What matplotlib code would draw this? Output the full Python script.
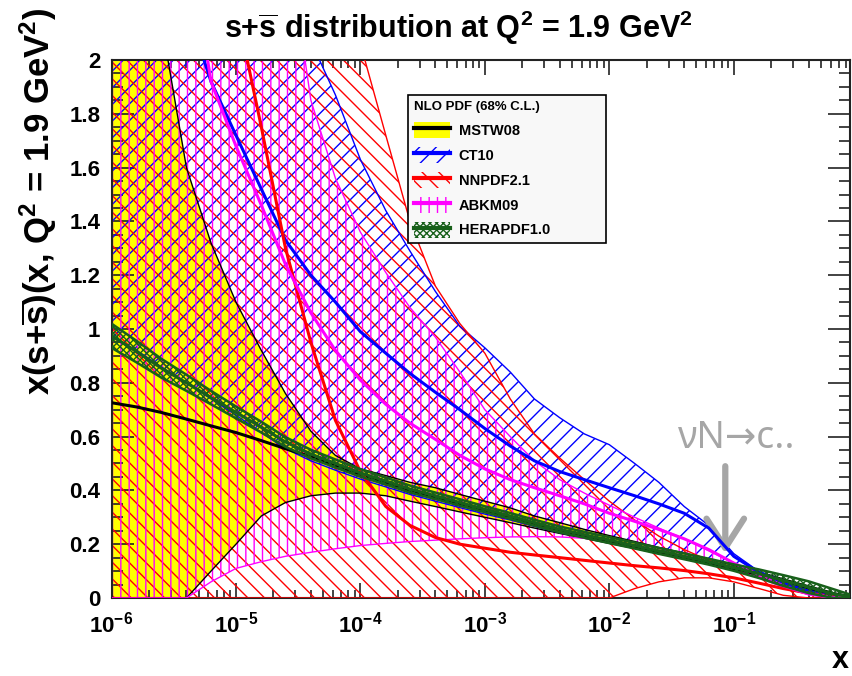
import numpy as np
import matplotlib
matplotlib.use('Agg')
import matplotlib.pyplot as plt
from matplotlib.patches import Patch
from matplotlib.lines import Line2D

plt.rcParams['font.family'] = ['Liberation Sans', 'DejaVu Sans']
plt.rcParams['font.weight'] = 'bold'
plt.rcParams['mathtext.fontset'] = 'custom'
plt.rcParams['mathtext.rm'] = 'Liberation Sans:bold'
plt.rcParams['mathtext.it'] = 'Liberation Sans:bold'
plt.rcParams['mathtext.bf'] = 'Liberation Sans:bold'
plt.rcParams['hatch.linewidth'] = 1.0

# x grid
x = [1e-6, 1.6e-6, 2.5e-6, 4e-6, 6.3e-6,
     1e-5, 1.6e-5, 2.5e-5, 4e-5, 6.3e-5,
     1e-4, 1.6e-4, 2.5e-4, 4e-4, 6.3e-4,
     1e-3, 1.6e-3, 2.5e-3, 4e-3, 6.3e-3,
     1e-2, 1.6e-2, 2.5e-2, 4e-2, 6.3e-2,
     0.1, 0.16, 0.25, 0.4, 0.63, 0.86]

# MSTW08
mstw_c = [0.726, 0.71, 0.69, 0.665, 0.64, 0.615, 0.585, 0.555, 0.525, 0.49,
          0.46, 0.43, 0.40, 0.375, 0.35, 0.325, 0.30, 0.277, 0.253, 0.232,
          0.212, 0.192, 0.172, 0.152, 0.132, 0.11, 0.087, 0.062, 0.038, 0.014, 0.004]
mstw_hi = [3.5, 2.8, 2.15, 1.6, 1.32, 1.10, 0.92, 0.76, 0.62, 0.53,
           0.48, 0.455, 0.43, 0.41, 0.385, 0.36, 0.335, 0.305, 0.28, 0.255,
           0.232, 0.21, 0.188, 0.167, 0.145, 0.121, 0.097, 0.071, 0.045, 0.02, 0.008]
mstw_lo = [0.0, 0.0, 0.0, 0.0, 0.10, 0.20, 0.305, 0.355, 0.38, 0.39,
           0.39, 0.38, 0.36, 0.34, 0.32, 0.30, 0.28, 0.26, 0.24, 0.222,
           0.203, 0.184, 0.165, 0.146, 0.126, 0.104, 0.08, 0.055, 0.032, 0.01, 0.0]

# CT10
ct10_c = [4.0, 3.3, 2.7, 2.2, 1.92, 1.72, 1.52, 1.33, 1.20, 1.10,
          0.99, 0.91, 0.835, 0.765, 0.70, 0.63, 0.565, 0.51, 0.47, 0.44,
          0.41, 0.38, 0.35, 0.315, 0.26, 0.155, 0.095, 0.055, 0.025, 0.005, 0.0]
ct10_hi = [6.0, 5.5, 5.0, 4.5, 4.0, 3.5, 3.0, 2.5, 2.07, 1.87,
           1.63, 1.44, 1.29, 1.14, 1.01, 0.93, 0.84, 0.74, 0.67, 0.61,
           0.57, 0.50, 0.43, 0.34, 0.27, 0.165, 0.098, 0.065, 0.04, 0.015, 0.005]
ct10_lo = [0.97, 0.92, 0.86, 0.80, 0.74, 0.68, 0.615, 0.555, 0.51, 0.475,
           0.442, 0.413, 0.385, 0.36, 0.336, 0.312, 0.29, 0.266, 0.243, 0.224,
           0.205, 0.186, 0.168, 0.15, 0.13, 0.108, 0.08, 0.05, 0.025, 0.005, 0.0]

# NNPDF2.1
nnpdf_c = [8.0, 7.0, 6.0, 5.0, 3.2, 2.2, 1.75, 1.30, 0.95, 0.66,
           0.47, 0.34, 0.27, 0.225, 0.20, 0.185, 0.17, 0.16, 0.15, 0.14,
           0.13, 0.12, 0.112, 0.102, 0.09, 0.075, 0.055, 0.035, 0.018, 0.005, 0.0]
nnpdf_hi = [9.0, 9.0, 9.0, 9.0, 9.0, 9.0, 9.0, 9.0, 9.0, 9.0,
            2.06, 1.72, 1.40, 1.16, 1.02, 0.91, 0.74, 0.61, 0.52, 0.44,
            0.36, 0.29, 0.23, 0.18, 0.14, 0.11, 0.08, 0.05, 0.025, 0.005, 0.0]
nnpdf_lo = [0.0, 0.0, 0.0, 0.0, 0.0, 0.0, 0.0, 0.0, 0.0, 0.0,
            0.0, 0.0, 0.0, 0.0, 0.0, 0.0, 0.0, 0.0, 0.0, 0.0,
            0.0, 0.035, 0.06, 0.075, 0.075, 0.06, 0.035, 0.01, 0.0, 0.0, 0.0]

# ABKM09
abkm_c = [5.0, 4.0, 3.2, 2.5, 1.92, 1.68, 1.46, 1.24, 1.06, 0.92,
          0.81, 0.72, 0.65, 0.59, 0.53, 0.48, 0.44, 0.41, 0.38, 0.35,
          0.315, 0.285, 0.255, 0.22, 0.18, 0.13, 0.085, 0.045, 0.015, 0.002, 0.0]
abkm_hi = [6.0, 5.6, 5.2, 4.8, 4.4, 4.0, 3.2, 2.5, 1.85, 1.56,
           1.36, 1.21, 1.08, 0.97, 0.84, 0.70, 0.60, 0.51, 0.44, 0.39,
           0.345, 0.30, 0.26, 0.22, 0.175, 0.13, 0.09, 0.05, 0.02, 0.003, 0.0]
abkm_lo = [0.0, 0.0, 0.0, 0.0, 0.06, 0.11, 0.135, 0.155, 0.17, 0.183,
           0.195, 0.203, 0.21, 0.215, 0.22, 0.224, 0.227, 0.228, 0.227, 0.222,
           0.212, 0.197, 0.178, 0.157, 0.135, 0.11, 0.075, 0.04, 0.012, 0.0, 0.0]

# HERAPDF1.0
hera_c = [0.975, 0.915, 0.855, 0.80, 0.745, 0.69, 0.635, 0.58, 0.535, 0.50,
          0.465, 0.435, 0.405, 0.38, 0.355, 0.33, 0.305, 0.28, 0.255, 0.235,
          0.215, 0.195, 0.175, 0.155, 0.135, 0.113, 0.09, 0.065, 0.04, 0.015, 0.005]
hera_hi = [1.02, 0.955, 0.89, 0.83, 0.77, 0.712, 0.655, 0.598, 0.551, 0.515,
           0.479, 0.448, 0.418, 0.392, 0.367, 0.341, 0.316, 0.291, 0.266, 0.246,
           0.226, 0.206, 0.186, 0.166, 0.146, 0.125, 0.106, 0.085, 0.062, 0.033, 0.013]
hera_lo = [0.93, 0.875, 0.82, 0.77, 0.72, 0.668, 0.615, 0.562, 0.519, 0.485,
           0.451, 0.422, 0.392, 0.368, 0.343, 0.319, 0.294, 0.269, 0.244, 0.224,
           0.204, 0.184, 0.164, 0.144, 0.124, 0.101, 0.074, 0.045, 0.018, 0.0, 0.0]

names = ['MSTW08', 'CT10', 'NNPDF2.1', 'ABKM09', 'HERAPDF1.0']

yellow = '#FFFF00'
blue = '#0000FF'
red = '#FF0000'
magenta = '#FF00FF'
green = '#18601A'

fig = plt.figure(figsize=(8.52, 6.76), dpi=100)
ax = fig.add_axes([0.1309, 0.1154, 0.8668, 0.7958])

# MSTW: solid yellow band
ax.fill_between(x, mstw_lo, mstw_hi, facecolor=yellow, edgecolor='none', zorder=1)

# hatched bands
ax.fill_between(x, ct10_lo, ct10_hi, facecolor='none', edgecolor=blue, hatch='//', lw=0, zorder=2)
ax.fill_between(x, nnpdf_lo, nnpdf_hi, facecolor='none', edgecolor=red, hatch='\\\\', lw=0, zorder=2)
ax.fill_between(x, abkm_lo, abkm_hi, facecolor='none', edgecolor=magenta, hatch='||', lw=0, zorder=2)

# band edges
for lo, hi, col in [(mstw_lo, mstw_hi, 'black'), (ct10_lo, ct10_hi, blue),
                    (nnpdf_lo, nnpdf_hi, red), (abkm_lo, abkm_hi, magenta)]:
    ax.plot(x, lo, color=col, lw=1.0, zorder=3)
    ax.plot(x, hi, color=col, lw=1.0, zorder=3)

# central lines
ax.plot(x, mstw_c, color='black', lw=2.2, zorder=4)
ax.plot(x, ct10_c, color=blue, lw=2.2, zorder=4)
ax.plot(x, nnpdf_c, color=red, lw=2.2, zorder=4)
ax.plot(x, abkm_c, color=magenta, lw=2.2, zorder=4)

# HERAPDF on top
ax.fill_between(x, hera_lo, hera_hi, facecolor='none', edgecolor=green, hatch='xxxxx', lw=0, zorder=5)
ax.plot(x, hera_lo, color=green, lw=1.8, zorder=5)
ax.plot(x, hera_hi, color=green, lw=1.8, zorder=5)
ax.plot(x, hera_c, color=green, lw=2.2, zorder=5)

ax.set_xscale('log')
ax.set_xlim(1e-6, 0.86)
ax.set_ylim(0, 2)

ax.set_xticks([1e-6, 1e-5, 1e-4, 1e-3, 1e-2, 1e-1])
ax.set_xticklabels([r'$10^{-6}$', r'$10^{-5}$', r'$10^{-4}$', r'$10^{-3}$', r'$10^{-2}$', r'$10^{-1}$'],
                   fontsize=16)
ax.set_yticks([0, 0.2, 0.4, 0.6, 0.8, 1, 1.2, 1.4, 1.6, 1.8, 2])
ax.set_yticklabels(['0', '0.2', '0.4', '0.6', '0.8', '1', '1.2', '1.4', '1.6', '1.8', '2'], fontsize=16)
ax.yaxis.set_minor_locator(plt.MultipleLocator(0.05))

ax.tick_params(which='both', direction='in', top=True, right=True, width=1.2, color='#222222')
ax.tick_params(axis='y', which='major', length=16, pad=8)
ax.tick_params(axis='y', which='minor', length=8)
ax.tick_params(axis='x', which='major', length=11, pad=10)
ax.tick_params(axis='x', which='minor', length=6)
for s in ax.spines.values():
    s.set_linewidth(1.5)
    s.set_color('#222222')

# titles
fig.text(458 / 852, 1 - 28 / 676, r'$s$+$\overline{s}$ distribution at Q$^2$ = 1.9 GeV$^2$',
         ha='center', va='center', fontsize=22)
fig.text(38 / 852, 1 - 8 / 676, r'x(s+$\overline{s}$)(x, Q$^2$ = 1.9 GeV$^2$)',
         rotation=90, ha='center', va='top', fontsize=25)
fig.text(840 / 852, 1 - 660 / 676, 'x', ha='center', va='center', fontsize=22)

# nu N -> c annotation
ax.annotate('', xy=(0.0855, 0.165), xytext=(0.0855, 0.49),
            arrowprops=dict(arrowstyle='->,head_length=0.7,head_width=0.45', lw=4.5,
                            color='#A6A6A6', mutation_scale=30, shrinkA=0, shrinkB=0))
fig.text(678 / 852, 1 - 448 / 676, 'νN→c..', ha='left', va='baseline', fontsize=27,
         color='#A6A6A6', fontweight='normal', family=['Noto Sans', 'DejaVu Sans'])

# legend
handles = [
    (Patch(facecolor=yellow, edgecolor='none'), Line2D([], [], color='black', lw=3)),
    (Patch(facecolor='none', edgecolor=blue, hatch='//', lw=0), Line2D([], [], color=blue, lw=3)),
    (Patch(facecolor='none', edgecolor=red, hatch='\\\\', lw=0), Line2D([], [], color=red, lw=3)),
    (Patch(facecolor='none', edgecolor=magenta, hatch='||', lw=0), Line2D([], [], color=magenta, lw=3)),
    (Patch(facecolor='none', edgecolor=green, hatch='xxxxx', lw=0), Line2D([], [], color=green, lw=3)),
]
leg = ax.legend(handles, names, loc='upper left', bbox_to_anchor=(0.401, 0.667, 0.268, 0.268),
                mode='expand', title='NLO PDF (68% C.L.)', fontsize=10.5, title_fontsize=9.5,
                frameon=True, fancybox=False, framealpha=1, facecolor='#F8F8F8',
                edgecolor='black', handlelength=2.5, handleheight=1.3, labelspacing=0.62,
                borderpad=0.4, handletextpad=0.6, borderaxespad=0)
leg._legend_box.align = 'left'
leg.get_title().set_fontweight('bold')
leg.get_frame().set_linewidth(1.2)
leg.set_zorder(10)

fig.savefig('out.png', dpi=100)
